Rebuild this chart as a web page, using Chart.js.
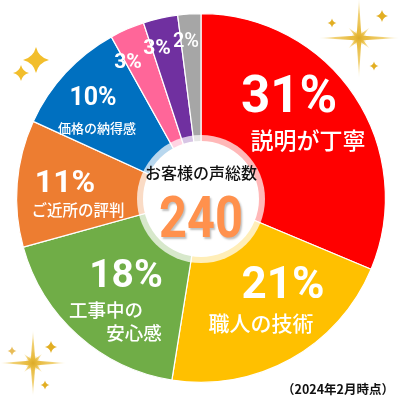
<!DOCTYPE html>
<html><head><meta charset="utf-8">
<script src="https://cdn.jsdelivr.net/npm/chart.js@4"></script>
<style>html,body{margin:0;padding:0;background:#fff}#wrap{width:400px;height:400px;position:relative}</style>
</head><body><div id="wrap"><canvas id="c" width="400" height="400"></canvas></div>
<script>
const categories = ['説明が丁寧','職人の技術','工事中の安心感','ご近所の評判','価格の納得感','その他A','その他B','その他C'];
const percents = [31, 21, 18, 11, 10, 3, 3, 2];
const colors = ['#FF0000','#FFC000','#70AD47','#ED7D31','#0070C0','#FF6699','#7030A0','#A6A6A6'];
const totalVoices = 240;
const centerTitle = 'お客様の声総数';
const footnote = '（2024年2月時点）';

const JP = '"Noto Sans CJK JP", sans-serif';
const NUM = 'Roboto, "Liberation Sans", sans-serif';

// label layout: [dx, dy, size] offsets from pie centre, per slice
const labelStyle = [
  {p:[88,-86,51], t:[[107,-58,'説明が丁寧']], ts:23},
  {p:[82,100,44], t:[[60,125,'職人の技術']], ts:21},
  {p:[-75,89,39], t:[[-95,112,'工事中の'],[-67,135,'安心感']], ts:18.5},
  {p:[-136,-6,32], t:[[-123,12,'ご近所の評判']], ts:15.5},
  {p:[-108,-93,25], t:[[-104,-70,'価格の納得感']], ts:13},
  {p:[-73,-130,21]},
  {p:[-44,-144,21]},
  {p:[-15,-151,20], light:true}
];

function star4(ctx,x,y,r,color){
  ctx.save();ctx.fillStyle=color;ctx.beginPath();
  const k=r*0.2;
  ctx.moveTo(x,y-r);
  ctx.quadraticCurveTo(x+k,y-k,x+r,y);
  ctx.quadraticCurveTo(x+k,y+k,x,y+r);
  ctx.quadraticCurveTo(x-k,y+k,x-r,y);
  ctx.quadraticCurveTo(x-k,y-k,x,y-r);
  ctx.fill();ctx.restore();
}
function ray(ctx,x,y,len,ang,w,color){
  ctx.save();ctx.translate(x,y);ctx.rotate(ang);
  const g=ctx.createLinearGradient(0,0,len,0);
  g.addColorStop(0,color);g.addColorStop(0.6,'rgba(235,190,60,0.7)');g.addColorStop(1,'rgba(240,200,80,0.1)');
  ctx.fillStyle=g;ctx.beginPath();
  ctx.moveTo(0,-w);ctx.lineTo(len,0);ctx.lineTo(0,w);ctx.closePath();ctx.fill();
  ctx.restore();
}
function sparkle(ctx,x,y,L,D){
  const c='#E2AE22';
  for(let i=0;i<4;i++) ray(ctx,x,y,L,i*Math.PI/2,2.4,c);
  for(let i=0;i<4;i++) ray(ctx,x,y,D,Math.PI/4+i*Math.PI/2,2.2,c);
  const g=ctx.createRadialGradient(x,y,0,x,y,8);
  g.addColorStop(0,'rgba(220,170,40,1)');g.addColorStop(0.5,'rgba(230,185,60,0.8)');g.addColorStop(1,'rgba(240,200,80,0)');
  ctx.fillStyle=g;ctx.beginPath();ctx.arc(x,y,8,0,Math.PI*2);ctx.fill();
}

const deco = {
  id:'deco',
  afterDraw(chart){
    const ctx=chart.ctx;
    const arc=chart.getDatasetMeta(0).data[0];
    const cx=arc.x, cy=arc.y;
    ctx.save();
    // centre ring
    ctx.fillStyle='rgba(255,255,255,0.72)';
    ctx.beginPath();ctx.arc(cx,cy+1,64,0,Math.PI*2);ctx.fill();
    ctx.fillStyle='#fff';
    ctx.beginPath();ctx.arc(cx,cy+1,58,0,Math.PI*2);ctx.fill();
    ctx.textAlign='center';
    ctx.fillStyle='#111';
    ctx.font='500 16px '+JP;ctx.textBaseline='middle';
    ctx.fillText(centerTitle,cx,cy-25);
    ctx.save();
    ctx.translate(cx,cy+39);ctx.scale(0.84,1);
    ctx.shadowColor='rgba(0,0,0,0.25)';ctx.shadowOffsetX=1.5;ctx.shadowOffsetY=1.5;ctx.shadowBlur=2;
    ctx.fillStyle='#FF914D';ctx.font='bold 58px '+NUM;ctx.textBaseline='alphabetic';
    ctx.fillText(String(totalVoices),0,0);
    ctx.restore();
    // slice labels
    ctx.fillStyle='#fff';
    percents.forEach((v,i)=>{
      const s=labelStyle[i];
      ctx.textBaseline='alphabetic';
      ctx.font=(s.light?'500 ':'bold ')+s.p[2]+'px '+NUM;
      ctx.fillText(v+'%',cx+s.p[0],cy+s.p[1]);
      if(s.t){
        ctx.textBaseline='middle';
        ctx.font='500 '+s.ts+'px '+JP;
        s.t.forEach(t=>ctx.fillText(t[2],cx+t[0],cy+t[1]));
      }
    });
    // footnote
    ctx.fillStyle='#111';ctx.textBaseline='middle';
    ctx.font='bold 12.5px '+JP;
    ctx.fillText(footnote,338,389);
    // sparkles
    sparkle(ctx,359,38,40,15);
    star4(ctx,382,16,6,'#E2AE22');star4(ctx,332,23,4.5,'#E2AE22');star4(ctx,374,66,4.5,'#E2AE22');
    sparkle(ctx,33,363,33,13);
    star4(ctx,51,347,6,'#E2AE22');star4(ctx,12,351,4.5,'#E8BC58');star4(ctx,45,385,4.5,'#E2AE22');
    star4(ctx,36,60,13,'#F2BE2C');star4(ctx,21,73,8,'#F2BE2C');
    ctx.restore();
  }
};

new Chart(document.getElementById('c'),{
  type:'pie',
  data:{labels:categories,datasets:[{data:percents,backgroundColor:colors,borderColor:'#ffffff',borderWidth:1.2}]},
  options:{
    responsive:false,animation:false,
    layout:{padding:{left:16,right:14,top:13,bottom:17}},
    plugins:{legend:{display:false},tooltip:{enabled:false}}
  },
  plugins:[deco]
});
</script></body></html>
